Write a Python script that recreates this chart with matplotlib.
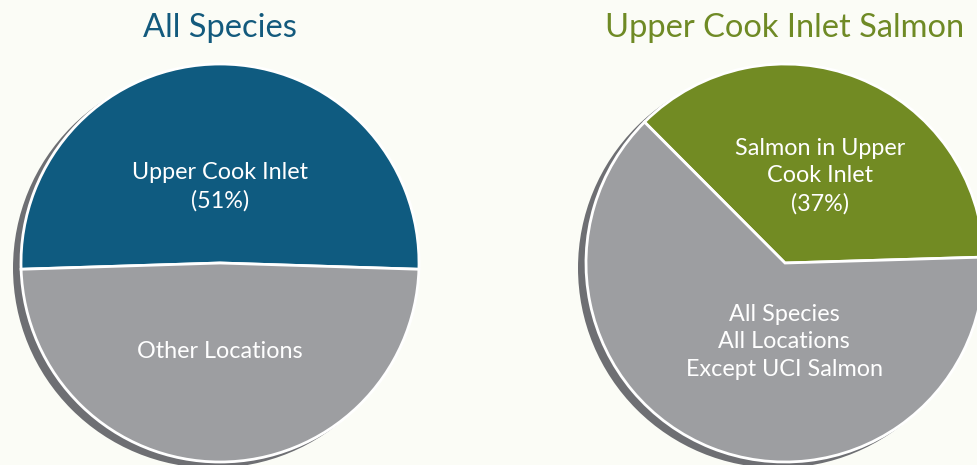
import matplotlib
matplotlib.use("Agg")
import matplotlib.pyplot as plt
from matplotlib.patches import Circle

plt.rcParams['font.family'] = ['Lato', 'DejaVu Sans']

# Data
left_title = "All Species"
left_labels = ["Upper Cook Inlet\n(51%)", "Other Locations"]
left_values = [51, 49]
right_title = "Upper Cook Inlet Salmon"
right_labels = ["Salmon in Upper\nCook Inlet\n(37%)", "All Species\nAll Locations\nExcept UCI Salmon"]
right_values = [37, 63]

BG = "#fbfcf6"
BLUE = "#0f5b80"
GREEN = "#728b23"
GRAY = "#9d9ea1"
SHADOW = "#6e6f73"

W, H = 977, 465
fig = plt.figure(figsize=(W / 100, H / 100), dpi=100, facecolor=BG)
ax = fig.add_axes([0, 0, 1, 1])
ax.set_xlim(0, W)
ax.set_ylim(0, H)
ax.set_aspect('equal')
ax.axis('off')
ax.set_facecolor(BG)

R = 199
pies = [
    dict(center=(220, H - 263), values=left_values, labels=left_labels,
         colors=[BLUE, GRAY], start=-0.5 * (left_values[0] / 100 * 360 - 180),
         title=left_title, tcolor="#135a7d",
         label_pos=[(220, H - 187), (220, H - 352)]),
    dict(center=(785, H - 263), values=right_values, labels=right_labels,
         colors=[GREEN, GRAY], start=1.7,
         title=right_title, tcolor="#6f8a25",
         label_pos=[(820, H - 176), (784, H - 342)]),
]

for p in pies:
    cx, cy = p['center']
    ax.add_patch(Circle((cx - 7, cy - 5), R + 1, facecolor=SHADOW, edgecolor='none', zorder=1))
    wedges, _ = ax.pie(p['values'], colors=p['colors'], startangle=p['start'],
                       counterclock=True, radius=R, center=p['center'],
                       wedgeprops=dict(edgecolor='white', linewidth=2, zorder=2),
                       frame=True)
    for w in wedges:
        w.set_zorder(2)
    for lab, (lx, ly) in zip(p['labels'], p['label_pos']):
        ax.text(lx, ly, lab, color='white', fontsize=16.8,
                ha='center', va='center', linespacing=1.38, zorder=3)
    ax.text(cx, H - 28, p['title'], color=p['tcolor'], fontsize=23.5,
            ha='center', va='center', zorder=3)

ax.set_xlim(0, W)
ax.set_ylim(0, H)
ax.axis('off')

fig.savefig("out.png", dpi=100, facecolor=BG)
